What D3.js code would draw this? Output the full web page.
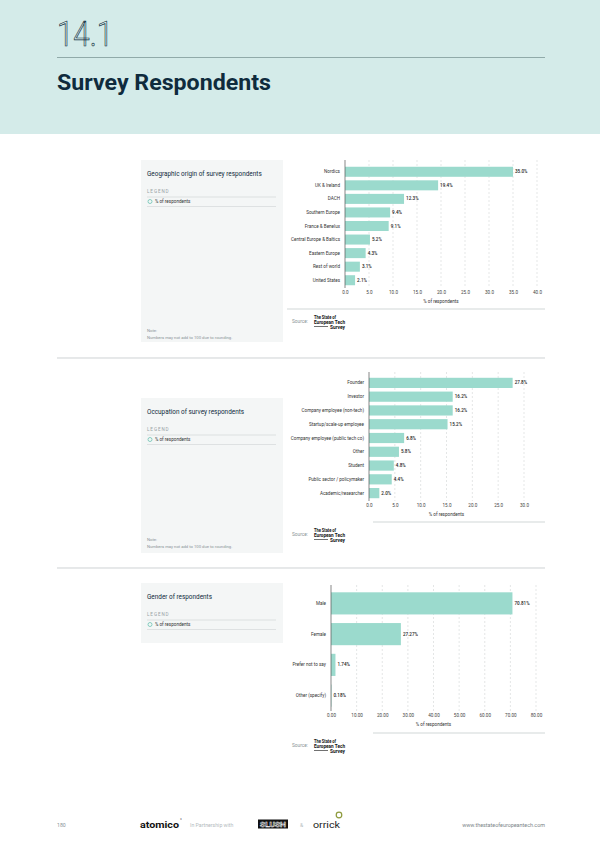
<!DOCTYPE html>
<html><head><meta charset="utf-8">
<script src="https://cdnjs.cloudflare.com/ajax/libs/d3/7.8.5/d3.min.js"></script>
<style>body{margin:0;background:#fff}svg{display:block}</style>
</head><body>
<script>
// ---------- DATA ----------
const geoCategories = ["Nordics","UK & Ireland","DACH","Southern Europe","France & Benelux","Central Europe & Baltics","Eastern Europe","Rest of world","United States"];
const geoValues = [35.0, 19.4, 12.3, 9.4, 9.1, 5.2, 4.3, 3.1, 2.1];
const geoTicks = [0, 5, 10, 15, 20, 25, 30, 35, 40];

const occCategories = ["Founder","Investor","Company employee (non-tech)","Startup/scale-up employee","Company employee (public tech co)","Other","Student","Public sector / policymaker","Academic/researcher"];
const occValues = [27.8, 16.2, 16.2, 15.2, 6.8, 5.8, 4.8, 4.4, 2.0];
const occTicks = [0, 5, 10, 15, 20, 25, 30];

const genCategories = ["Male","Female","Prefer not to say","Other (specify)"];
const genValues = [70.81, 27.27, 1.74, 0.18];
const genTicks = [0, 10, 20, 30, 40, 50, 60, 70, 80];

const legendLabel = "% of respondents";
const axisTitle = "% of respondents";

// ---------- STYLE ----------
const BAR = "#9bdacd";
const NAVY = "#0f2b3d";
const FONT = "Roboto, 'Open Sans', sans-serif";

const svg = d3.select("body").append("svg").attr("width", 600).attr("height", 848);

// header
svg.append("rect").attr("x",0).attr("y",0).attr("width",600).attr("height",134).attr("fill","#d4ebe9");
svg.append("text").attr("x",57).attr("y",46).text("14.1")
  .attr("font-family",FONT).attr("font-size",35).attr("font-weight",300)
  .attr("fill","none").attr("stroke",NAVY).attr("stroke-width",0.7)
  .attr("textLength",56).attr("lengthAdjust","spacingAndGlyphs");
svg.append("line").attr("x1",57).attr("x2",545).attr("y1",57.5).attr("y2",57.5).attr("stroke","#7f9998").attr("stroke-width",0.8);
svg.append("text").attr("x",57).attr("y",90).text("Survey Respondents")
  .attr("font-family",FONT).attr("font-size",22).attr("font-weight",700).attr("fill",NAVY)
  .attr("textLength",214).attr("lengthAdjust","spacingAndGlyphs");

// section separators
[358, 568].forEach(y => svg.append("line").attr("x1",57).attr("x2",545).attr("y1",y).attr("y2",y).attr("stroke","#b9bfc1").attr("stroke-width",0.7));

function panel(cfg){
  const g = svg.append("g");
  g.append("rect").attr("x",141).attr("y",cfg.top).attr("width",142).attr("height",cfg.h).attr("fill","#f4f6f6");
  g.append("text").attr("x",147).attr("y",cfg.titleY).text(cfg.title)
    .attr("font-family",FONT).attr("font-size",6.4).attr("fill",NAVY);
  g.append("text").attr("x",147).attr("y",cfg.titleY+17).text("LEGEND")
    .attr("font-family",FONT).attr("font-size",4.6).attr("letter-spacing",0.9).attr("fill","#9aa3a6");
  g.append("line").attr("x1",147).attr("x2",276).attr("y1",cfg.titleY+21).attr("y2",cfg.titleY+21).attr("stroke","#cfd4d5").attr("stroke-width",0.6);
  g.append("circle").attr("cx",150).attr("cy",cfg.titleY+25.5).attr("r",2).attr("fill","none").attr("stroke","#6cc3b3").attr("stroke-width",0.8);
  g.append("text").attr("x",155).attr("y",cfg.titleY+27.2).text(legendLabel)
    .attr("font-family",FONT).attr("font-size",4.6).attr("fill","#333");
  g.append("line").attr("x1",147).attr("x2",276).attr("y1",cfg.titleY+30.5).attr("y2",cfg.titleY+30.5).attr("stroke","#cfd4d5").attr("stroke-width",0.6);
  if (cfg.noteY){
    g.append("text").attr("x",147).attr("y",cfg.noteY).text("Note:")
      .attr("font-family",FONT).attr("font-size",4.2).attr("fill","#8a9396");
    g.append("text").attr("x",147).attr("y",cfg.noteY+7).text("Numbers may not add to 100 due to rounding.")
      .attr("font-family",FONT).attr("font-size",4.2).attr("fill","#8a9396");
  }
}

function source(y, lineX1){
  svg.append("line").attr("x1",lineX1).attr("x2",545).attr("y1",y).attr("y2",y).attr("stroke","#e1e4e5").attr("stroke-width",1.5);
  const sy = y + 14;
  svg.append("text").attr("x",292).attr("y",sy).text("Source:")
    .attr("font-family",FONT).attr("font-size",4.8).attr("fill","#8a9396");
  const lg = svg.append("g").attr("font-family",FONT).attr("font-weight",700).attr("fill","#111");
  lg.append("text").attr("x",314).attr("y",sy-4.5).text("The State of").attr("font-size",5.4)
    .attr("textLength",22).attr("lengthAdjust","spacingAndGlyphs");
  lg.append("text").attr("x",314).attr("y",sy+0.5).text("European Tech").attr("font-size",5.4)
    .attr("textLength",31).attr("lengthAdjust","spacingAndGlyphs");
  svg.append("line").attr("x1",314).attr("x2",328).attr("y1",sy+3.5).attr("y2",sy+3.5).attr("stroke","#111").attr("stroke-width",0.6);
  lg.append("text").attr("x",330).attr("y",sy+5.5).text("Survey").attr("font-size",5.4)
    .attr("textLength",15).attr("lengthAdjust","spacingAndGlyphs");
}

function barChart(cfg){
  const x = d3.scaleLinear().domain([cfg.ticks[0], cfg.ticks[cfg.ticks.length-1]]).range([cfg.x0, cfg.x1]);
  const y = d3.scaleBand().domain(cfg.cats).range([cfg.y0, cfg.y1]).paddingInner(cfg.pad).paddingOuter(cfg.pad/2);
  const g = svg.append("g");
  // grid
  g.selectAll(".grid").data(cfg.ticks.slice(1)).join("line")
    .attr("x1",d=>x(d)).attr("x2",d=>x(d)).attr("y1",cfg.gTop).attr("y2",cfg.gBot)
    .attr("stroke","#c9cccd").attr("stroke-width",0.5).attr("stroke-dasharray","2,2");
  // bars
  g.selectAll(".bar").data(cfg.vals).join("rect")
    .attr("x",x(0)).attr("y",(d,i)=>y(cfg.cats[i])).attr("width",d=>x(d)-x(0)).attr("height",y.bandwidth())
    .attr("fill",BAR);
  // axis line
  g.append("line").attr("x1",x(0)).attr("x2",x(0)).attr("y1",cfg.gTop).attr("y2",cfg.gBot).attr("stroke","#555").attr("stroke-width",0.7);
  // category labels
  g.selectAll(".cat").data(cfg.cats).join("text")
    .attr("x",x(0)-5).attr("y",d=>y(d)+y.bandwidth()/2).attr("dy","0.35em").attr("text-anchor","end")
    .attr("font-family",FONT).attr("font-size",4.6).attr("fill","#333").text(d=>d);
  // value labels
  const vf = d3.format(cfg.fmt);
  g.selectAll(".val").data(cfg.vals).join("text")
    .attr("x",d=>x(d)+2).attr("y",(d,i)=>y(cfg.cats[i])+y.bandwidth()/2).attr("dy","0.35em")
    .attr("font-family",FONT).attr("font-size",4.6).attr("font-weight",500).attr("fill","#222").text(d=>vf(d)+"%");
  // x axis
  const ax = d3.axisBottom(x).tickValues(cfg.ticks).tickFormat(d3.format(cfg.fmt)).tickSize(0).tickPadding(0);
  const axg = g.append("g").attr("transform",`translate(0,${cfg.tickY})`).call(ax);
  axg.select(".domain").remove();
  axg.selectAll("text").attr("font-family",FONT).attr("font-size",4.6).attr("fill","#444").attr("dy","0");
  g.append("text").attr("x",(cfg.x0+cfg.x1)/2 - (cfg.titleShift||0)).attr("y",cfg.tickY+8.5).attr("text-anchor","middle")
    .attr("font-family",FONT).attr("font-size",4.6).attr("fill","#333").text(axisTitle);
}

// Chart 1
panel({top:160, h:182, titleY:176, title:"Geographic origin of survey respondents", noteY:332});
barChart({cats:geoCategories, vals:geoValues, ticks:geoTicks, fmt:".1f",
  x0:345, x1:537, y0:165, y1:287, pad:0.26, gTop:160, gBot:288, tickY:294});
source(309, 287);

// Chart 2
panel({top:398, h:155, titleY:414, title:"Occupation of survey respondents", noteY:541});
barChart({cats:occCategories, vals:occValues, ticks:occTicks, fmt:".1f",
  x0:369, x1:524, y0:376, y1:500, pad:0.26, gTop:372, gBot:501, tickY:507});
source(522, 373);

// Chart 3
panel({top:583, h:60, titleY:599, title:"Gender of respondents"});
barChart({cats:genCategories, vals:genValues, ticks:genTicks, fmt:".2f",
  x0:331, x1:536, y0:588, y1:711, pad:0.28, gTop:585, gBot:711, tickY:717});
source(733, 373);

// Footer
const ft = svg.append("g").attr("font-family",FONT);
ft.append("text").attr("x",57).attr("y",827).text("180").attr("font-size",5.2).attr("fill","#8a9396");
ft.append("text").attr("x",140).attr("y",828).text("atomico").attr("font-size",9.5).attr("font-weight",700).attr("fill","#111")
  .attr("textLength",39).attr("lengthAdjust","spacingAndGlyphs");
ft.append("text").attr("x",180).attr("y",822).text("°").attr("font-size",5).attr("fill","#111");
ft.append("text").attr("x",190).attr("y",827).text("In Partnership with").attr("font-size",5.2).attr("fill","#b3babd");
ft.append("rect").attr("x",258).attr("y",819.5).attr("width",30).attr("height",9).attr("fill","#111");
ft.append("text").attr("x",273).attr("y",827.3).attr("text-anchor","middle").text("SLUSH").attr("font-size",8).attr("font-weight",700)
  .attr("fill","none").attr("stroke","#fff").attr("stroke-width",0.5).attr("textLength",26).attr("lengthAdjust","spacingAndGlyphs");
ft.append("text").attr("x",300).attr("y",827).text("&").attr("font-size",5.2).attr("fill","#b3babd");
ft.append("text").attr("x",313).attr("y",828).text("orrick").attr("font-size",9.5).attr("fill","#222")
  .attr("textLength",27).attr("lengthAdjust","spacingAndGlyphs");
ft.append("circle").attr("cx",339).attr("cy",815).attr("r",2.8).attr("fill","none").attr("stroke","#8d9a3c").attr("stroke-width",1.2);
ft.append("text").attr("x",545).attr("y",827).attr("text-anchor","end").text("www.thestateofeuropeantech.com").attr("font-size",5.4).attr("fill","#7b8589");
</script>
</body></html>
